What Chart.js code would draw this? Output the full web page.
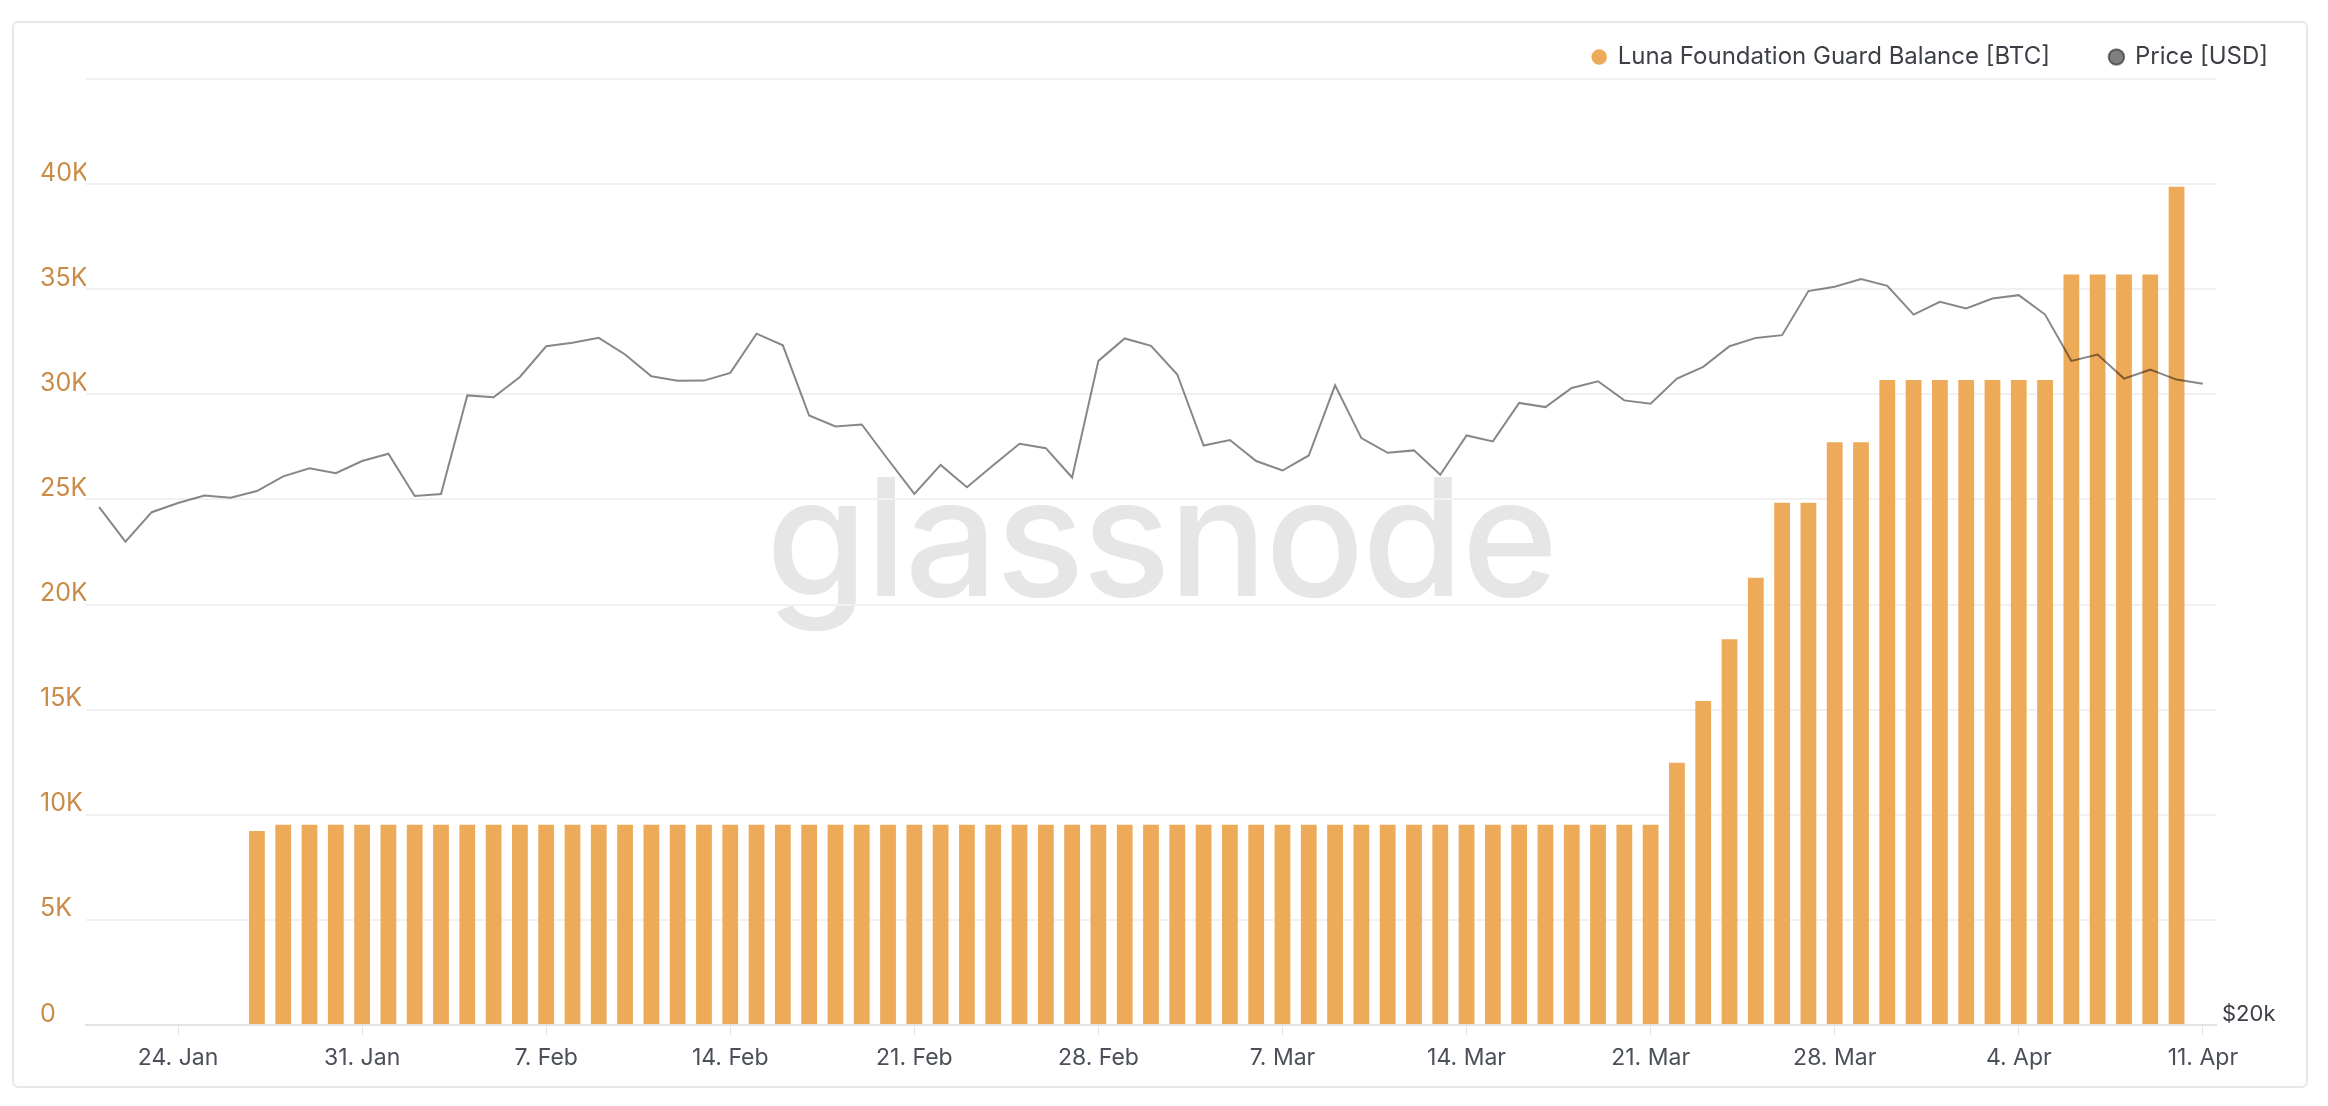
<!DOCTYPE html>
<html>
<head>
<meta charset="utf-8">
<script src="https://cdn.jsdelivr.net/npm/chart.js@4.4.1/dist/chart.umd.min.js"></script>
<style>
  html, body { margin: 0; padding: 0; background: #fff; }
  #card {
    position: absolute; left: 12px; top: 21px; width: 2296px; height: 1067px;
    box-sizing: border-box; border: 2px solid #e8e8e8; border-radius: 6px; background: #fff;
  }
  #mark {
    position: absolute; left: 1161px; top: 536px; transform: translate(-50%, -50%);
    font-family: Inter, sans-serif; font-size: 164px; font-weight: 500; color: #e6e6e6;
    letter-spacing: -2px; white-space: nowrap;
  }
  #wrap { position: absolute; left: 0; top: 0; width: 2328px; height: 1106px; }
</style>
</head>
<body>
<div id="card"></div>
<div id="mark">glassnode</div>
<div id="wrap"><canvas id="chart"></canvas></div>
<script>
// --- data ---
const days = [
  '21. Jan', '22. Jan', '23. Jan', '24. Jan', '25. Jan', '26. Jan', '27. Jan', '28. Jan', '29. Jan', '30. Jan', '31. Jan',
  '1. Feb', '2. Feb', '3. Feb', '4. Feb', '5. Feb', '6. Feb', '7. Feb', '8. Feb', '9. Feb', '10. Feb',
  '11. Feb', '12. Feb', '13. Feb', '14. Feb', '15. Feb', '16. Feb', '17. Feb', '18. Feb', '19. Feb', '20. Feb',
  '21. Feb', '22. Feb', '23. Feb', '24. Feb', '25. Feb', '26. Feb', '27. Feb', '28. Feb',
  '1. Mar', '2. Mar', '3. Mar', '4. Mar', '5. Mar', '6. Mar', '7. Mar', '8. Mar', '9. Mar', '10. Mar',
  '11. Mar', '12. Mar', '13. Mar', '14. Mar', '15. Mar', '16. Mar', '17. Mar', '18. Mar', '19. Mar', '20. Mar',
  '21. Mar', '22. Mar', '23. Mar', '24. Mar', '25. Mar', '26. Mar', '27. Mar', '28. Mar', '29. Mar', '30. Mar', '31. Mar',
  '1. Apr', '2. Apr', '3. Apr', '4. Apr', '5. Apr', '6. Apr', '7. Apr', '8. Apr', '9. Apr', '10. Apr', '11. Apr'
];

const tickLabels = ['24. Jan', '31. Jan', '7. Feb', '14. Feb', '21. Feb', '28. Feb',
  '7. Mar', '14. Mar', '21. Mar', '28. Mar', '4. Apr', '11. Apr'];

// LFG balance in BTC (no data before 27 Jan and on 11 Apr)
const balance = [
  null, null, null, null, null, null, 9230, 9520, 9520, 9520, 9520,
  9520, 9520, 9520, 9520, 9520, 9520, 9520, 9520, 9520, 9520,
  9520, 9520, 9520, 9520, 9520, 9520, 9520, 9520, 9520, 9520,
  9520, 9520, 9520, 9520, 9520, 9520, 9520, 9520,
  9520, 9520, 9520, 9520, 9520, 9520, 9520, 9520, 9520, 9520,
  9520, 9520, 9520, 9520, 9520, 9520, 9520, 9520, 9520, 9520,
  9520, 12470, 15410, 18350, 21270, 24840, 24840, 27720, 27720, 30680, 30680,
  30680, 30680, 30680, 30680, 30680, 35700, 35700, 35700, 35700, 39870, null
];

// BTC price in USD
const price = [
  36490, 35060, 36280, 36670, 36990, 36890, 37180, 37820, 38180, 37960, 38500,
  38830, 36970, 37050, 41550, 41460, 42450, 43990, 44170, 44420, 43570,
  42480, 42260, 42270, 42650, 44640, 44040, 40590, 40080, 40170, 38570,
  37060, 38330, 37350, 38310, 39280, 39080, 37770, 43250,
  44390, 44010, 42570, 39200, 39450, 38500, 38080, 38750, 42040, 39540,
  38870, 38980, 37890, 39660, 39390, 41190, 40990, 41910, 42240, 41310,
  41150, 42370, 42950, 43990, 44420, 44560, 46900, 47140, 47560, 47190, 45640,
  46320, 45960, 46500, 46680, 45640, 43250, 43570, 42370, 42810, 42320, 42120
];

// --- chart ---
Chart.defaults.font.family = 'Inter, sans-serif';

const canvas = document.getElementById('chart');

new Chart(canvas, {
  type: 'bar',
  data: {
    labels: days,
    datasets: [
      {
        type: 'bar',
        label: 'Luna Foundation Guard Balance [BTC]',
        data: balance,
        backgroundColor: 'rgb(237, 170, 89)',
        borderWidth: 0,
        categoryPercentage: 1,
        barPercentage: 0.6,
        yAxisID: 'y',
        order: 2,
      },
      {
        type: 'line',
        label: 'Price [USD]',
        data: price,
        borderColor: 'rgba(0, 0, 0, 0.47)',
        backgroundColor: '#7f7f7f',
        borderWidth: 2,
        pointRadius: 0,
        tension: 0,
        yAxisID: 'price',
        order: 1,
      },
    ],
  },
  options: {
    responsive: true,
    maintainAspectRatio: false,
    animation: false,
    layout: { padding: { left: 40, right: 0, top: -15, bottom: 0 } },
    plugins: {
      tooltip: { enabled: false },
      legend: {
        position: 'top',
        align: 'end',
        labels: {
          usePointStyle: true,
          pointStyle: 'circle',
          boxWidth: 13,
          boxHeight: 11,
          padding: 60,
          color: '#3c3f45',
          font: { size: 24 },
          sort: (a, b) => a.datasetIndex - b.datasetIndex,
        },
      },
    },
    scales: {
      x: {
        offset: true,
        afterFit: (scale) => { scale.height = 81; },
        border: { display: true, color: '#e4e4e4', width: 2 },
        grid: {
          offset: false,
          drawOnChartArea: false,
          tickLength: 10,
          color: (ctx) => tickLabels.includes(days[ctx.index]) ? '#e4e4e4' : 'rgba(0,0,0,0)',
        },
        ticks: {
          autoSkip: false,
          maxRotation: 0,
          padding: 9,
          color: '#4b4f58',
          font: { size: 23 },
          callback: (value) => tickLabels.includes(days[value]) ? days[value] : '',
        },
      },
      y: {
        position: 'left',
        min: 0,
        max: 45000,
        afterFit: (scale) => { scale.width = 46; },
        border: { display: false },
        grid: { color: '#f1f1f1', lineWidth: 2, drawTicks: false },
        ticks: {
          stepSize: 5000,
          crossAlign: 'far',
          padding: 0,
          labelOffset: -11,
          color: '#c98b45',
          font: { size: 25 },
          callback: (v) => v === 45000 ? '' : (v === 0 ? '0' : (v / 1000) + 'K'),
        },
      },
      price: {
        type: 'logarithmic',
        position: 'right',
        min: 20000,
        max: 60000,
        afterFit: (scale) => { scale.width = 112; },
        afterBuildTicks: (scale) => { scale.ticks = [{ value: 20000 }]; },
        border: { display: false },
        grid: { display: false, drawTicks: false },
        ticks: {
          padding: 6,
          labelOffset: -11,
          color: '#3c3f45',
          font: { size: 22 },
          callback: () => '$20k',
        },
      },
    },
  },
});
</script>
</body>
</html>
